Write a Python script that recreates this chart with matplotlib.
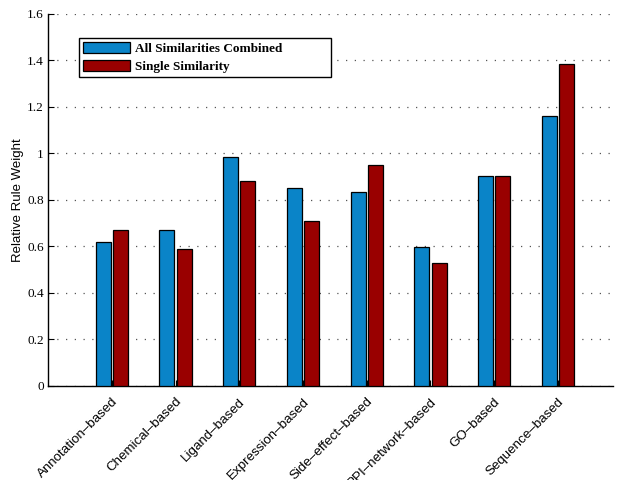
import numpy as np
import matplotlib.pyplot as plt

# rule weights per similarity type
categories = ['Annotation\u2013based', 'Chemical\u2013based', 'Ligand\u2013based',
              'Expression\u2013based', 'Side\u2013effect\u2013based',
              'PPI\u2013network\u2013based', 'GO\u2013based', 'Sequence\u2013based']
combined = [0.617, 0.671, 0.985, 0.850, 0.834, 0.597, 0.903, 1.161]
single = [0.671, 0.590, 0.882, 0.708, 0.950, 0.529, 0.903, 1.385]
yticks = [0, 0.2, 0.4, 0.6, 0.8, 1, 1.2, 1.4, 1.6]
ytick_labels = ['0', '0.2', '0.4', '0.6', '0.8', '1', '1.2', '1.4', '1.6']

blue = '#0a84c8'
red = '#990000'

fig = plt.figure(figsize=(6.17, 4.8), dpi=100)
ax = fig.add_axes([0.078, 0.196, 0.916, 0.775])

x = np.arange(len(categories))
w = 0.235
off = 0.135
ax.bar(x - off, combined, w, color=blue, edgecolor='black', linewidth=0.9,
       label='All Similarities Combined', zorder=3)
ax.bar(x + off, single, w, color=red, edgecolor='black', linewidth=0.9,
       label='Single Similarity', zorder=3)

ax.set_xlim(-1.0, 7.87)
ax.set_ylim(0, 1.6)
ax.set_yticks(yticks)
ax.set_yticklabels(ytick_labels, family='Liberation Serif', fontsize=9.5)
ax.set_xticks(x)
ax.set_xticklabels(categories, rotation=45, ha='right', va='top',
                   rotation_mode='anchor', family='Liberation Sans', fontsize=9.6)
ax.tick_params(axis='both', direction='in', length=4, width=0.8)
ax.tick_params(axis='y', pad=3)
ax.tick_params(axis='x', pad=7)
ax.set_ylabel('Relative Rule Weight', family='Liberation Sans', fontsize=9.5,
              labelpad=2)

ax.yaxis.grid(True, linestyle=(0, (1, 6)), color='#555555', linewidth=0.9, zorder=0)
ax.set_axisbelow(True)
for s in ['top', 'right']:
    ax.spines[s].set_visible(False)
for s in ['left', 'bottom']:
    ax.spines[s].set_linewidth(1.0)

leg = ax.legend(loc='upper left', bbox_to_anchor=(0.055, 0.935, 0.445, 0.0),
                mode='expand',
                prop={'family': 'Liberation Serif', 'weight': 'bold', 'size': 9.5},
                handlelength=3.55, handleheight=0.9, handletextpad=0.4,
                labelspacing=0.35, borderpad=0.3, borderaxespad=0,
                fancybox=False, edgecolor='black', framealpha=1)
leg.get_frame().set_linewidth(1.0)

fig.savefig('out.png', dpi=100, facecolor='white')
